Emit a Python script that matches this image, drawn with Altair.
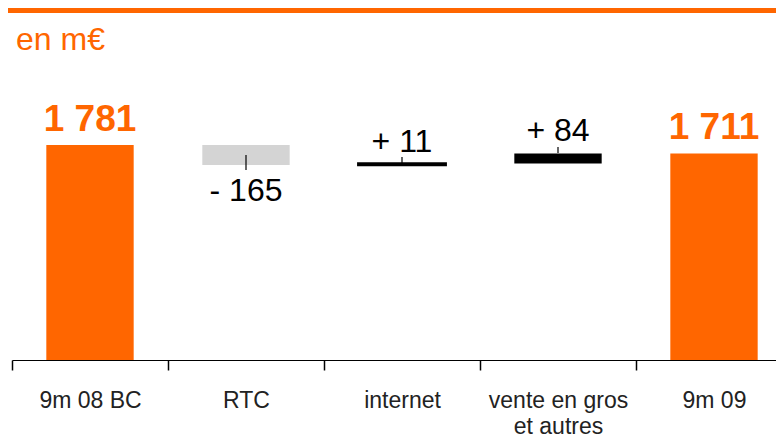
import altair as alt
import pandas as pd

categories = ["9m 08 BC", "RTC", "internet", "vente en gros et autres", "9m 09"]
values = [1781, -165, 11, 84, 1711]
kinds = ["total", "baisse", "hausse", "hausse", "total"]
labels = ["1 781", "- 165", "+ 11", "+ 84", "1 711"]
unit_title = "en m€"

starts, ends = [], []
run = 0
for v, k in zip(values, kinds):
    if k == "total":
        starts.append(0)
        ends.append(v)
        run = v
    else:
        starts.append(run)
        run += v
        ends.append(run)
mids = [(s + e) / 2 for s, e in zip(starts, ends)]

df = pd.DataFrame(dict(cat=categories, value=values, kind=kinds, label=labels,
                       start=starts, end=ends, mid=mids))

ORANGE = "#FF6600"
FONT = "Liberation Sans"

x = alt.X(
    "cat:N", sort=categories,
    scale=alt.Scale(range=[0, 780], padding=0),
    axis=alt.Axis(
        title=None, labelAngle=0, tickBand="extent", tickSize=10,
        domainColor="#000", tickColor="#000", domainWidth=1.2, tickWidth=1.5,
        labelFont=FONT, labelFontSize=23, labelColor="#222", labelPadding=19,
        labelLineHeight=26, labelLimit=300, grid=False,
        labelExpr="datum.label == 'vente en gros et autres' ? ['vente en gros', 'et autres'] : datum.label",
    ),
)
yscale = alt.Scale(domain=[0, 2485], nice=False)

base = alt.Chart(df)

bars = base.mark_bar(width=alt.RelativeBandSize(0.56)).encode(
    x=x,
    y=alt.Y("start:Q", scale=yscale, axis=None),
    y2="end:Q",
    color=alt.Color("kind:N", scale=alt.Scale(domain=["total", "baisse", "hausse"],
                                               range=[ORANGE, "#D4D4D4", "#000000"]), legend=None),
    stroke=alt.value("#000000"),
    strokeWidth=alt.condition("datum.cat == 'internet'", alt.value(2.5), alt.value(0)),
)

lead_neg = base.transform_filter("datum.kind == 'baisse'").mark_rule(
    color="#000", strokeWidth=1.2, y2Offset=5
).encode(x=x, y=alt.Y("mid:Q", scale=yscale), y2="end:Q")

lead_pos = base.transform_filter("datum.kind == 'hausse'").mark_rule(
    color="#000", strokeWidth=1.2, yOffset=-6.5, y2Offset=-0.5
).encode(x=x, y=alt.Y("end:Q", scale=yscale), y2="end:Q")

txt_total = base.transform_filter("datum.kind == 'total'").mark_text(
    font=FONT, fontSize=37, fontWeight="bold", color=ORANGE, baseline="alphabetic", dy=-14
).encode(x=x, y=alt.Y("end:Q", scale=yscale), text="label:N")

txt_neg = base.transform_filter("datum.kind == 'baisse'").mark_text(
    font=FONT, fontSize=32, color="#000", baseline="alphabetic", dy=36
).encode(x=x, y=alt.Y("end:Q", scale=yscale), text="label:N")

txt_pos = base.transform_filter("datum.kind == 'hausse'").mark_text(
    font=FONT, fontSize=32, color="#000", baseline="alphabetic", dy=-12
).encode(x=x, y=alt.Y("end:Q", scale=yscale), text="label:N")

top_line = base.mark_rule(color=ORANGE, strokeWidth=5).encode(
    x=alt.value(-4), x2=alt.value(790), y=alt.value(-49.5)
)

title_txt = alt.Chart(pd.DataFrame({"t": [unit_title]})).mark_text(
    font=FONT, fontSize=32, color=ORANGE, align="left", baseline="alphabetic"
).encode(x=alt.value(4), y=alt.value(-10), text="t:N")

chart = alt.layer(top_line, title_txt, bars, lead_neg, lead_pos, txt_total, txt_neg, txt_pos).properties(
    width=764, height=300,
    autosize=alt.AutoSizeParams(type="none"),
    padding={"left": 4, "top": 52, "right": 0, "bottom": 78},
).configure_view(stroke=None)

chart.save("out.html", embed_options={"renderer": "svg", "actions": False})
